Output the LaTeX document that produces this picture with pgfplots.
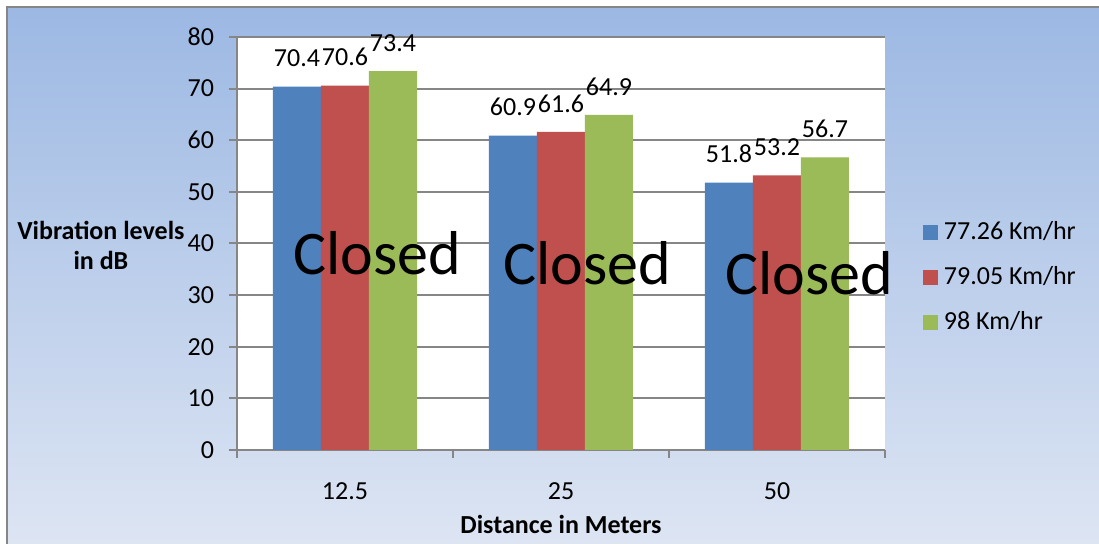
\documentclass[border=0pt]{standalone}
\usepackage{fontspec}
\setmainfont{Carlito}
\usepackage{pgfplots}
\pgfplotsset{compat=1.18}

\definecolor{bBlue}{RGB}{79,129,189}
\definecolor{bRed}{RGB}{192,80,77}
\definecolor{bGreen}{RGB}{155,187,89}
\definecolor{bgTop}{RGB}{156,184,227}
\definecolor{bgBot}{RGB}{221,229,243}
\definecolor{gridgray}{RGB}{134,134,134}

\newcommand{\lblfont}{\fontsize{13}{15}\selectfont}

\begin{document}
\begin{tikzpicture}
\useasboundingbox (0pt,0pt) rectangle (549.5pt,272pt);
% chart area background
\shade[top color=bgTop, bottom color=bgBot] (3.5pt,0pt) rectangle (549.5pt,268.5pt);
\draw[gridgray, line width=1pt] (3.5pt,0pt) -- (3.5pt,268.5pt) -- (549.5pt,268.5pt);
\begin{axis}[
    at={(118.5pt,47pt)}, anchor=south west,
    scale only axis, width=324pt, height=206.5pt,
    ybar=0pt, bar width=24pt,
    xmin=-0.5, xmax=2.5, ymin=0, ymax=80,
    enlargelimits=false, clip=false,
    xtick={0,1,2}, xticklabels={12.5,25,50},
    minor xtick={-0.5,0.5,1.5,2.5},
    ytick={0,10,...,80},
    axis x line*=bottom, axis y line*=left,
    axis line style={gridgray, line width=1pt},
    ymajorgrids, grid style={gridgray, line width=1pt},
    tick align=outside,
    major tick length=4pt, minor tick length=4pt,
    tick style={gridgray, line width=1pt},
    major x tick style={draw=none},
    every tick label/.append style={font=\lblfont, black},
    /pgf/number format/assume math mode=true,
    xticklabel style={anchor=base, yshift=-21pt},
    yticklabel style={xshift=-4pt},
    axis background/.style={fill=white},
    nodes near coords,
    every node near coord/.append style={font=\lblfont, black, inner sep=0pt, anchor=south, yshift=9.5pt},
    xlabel={Distance in Meters},
    ylabel={Vibration levels\\in dB},
    xlabel style={font=\bfseries\lblfont, at={(axis description cs:0.5,-0.201)}, anchor=base},
    ylabel style={font=\bfseries\lblfont, align=center, rotate=-90,
        at={(axis description cs:-0.21,0.496)}, anchor=center},
    legend style={at={(axis description cs:1.058,0.418)}, anchor=west,
        draw=none, fill=none, font=\lblfont, inner sep=0pt,
        row sep=12pt, column sep=3pt, nodes={inner sep=0pt}},
    legend cell align=left,
    legend image code/.code={\fill[#1] (0pt,-3.75pt) rectangle (7.5pt,3.75pt);},
]
\addplot[fill=bBlue, draw=none] coordinates {(0,70.4) (1,60.9) (2,51.8)};
\addplot[fill=bRed, draw=none] coordinates {(0,70.6) (1,61.6) (2,53.2)};
\addplot[fill=bGreen, draw=none] coordinates {(0,73.4) (1,64.9) (2,56.7)};
\legend{77.26 Km/hr, 79.05 Km/hr, 98 Km/hr}
\node[font=\fontsize{31}{36}\selectfont, anchor=base, inner sep=0pt] at (axis cs:0.150,33.9) {Closed};
\node[font=\fontsize{31}{36}\selectfont, anchor=base, inner sep=0pt] at (axis cs:1.123,31.96) {Closed};
\node[font=\fontsize{31}{36}\selectfont, anchor=base, inner sep=0pt] at (axis cs:2.150,30.2) {Closed};
\end{axis}
\end{tikzpicture}
\end{document}
